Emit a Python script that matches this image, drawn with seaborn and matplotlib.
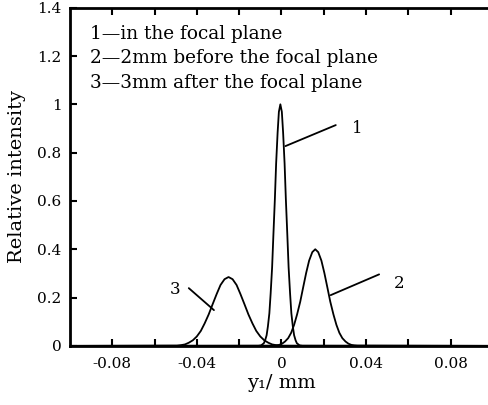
import pandas as pd
import matplotlib
matplotlib.use("Agg")
import matplotlib.pyplot as plt
import seaborn as sns

# curve 1 - in the focal plane
x1 = [-0.1, -0.0109, -0.0096, -0.0083, -0.0077, -0.0070, -0.0064, -0.0057, -0.0051,
      -0.0044, -0.0038, -0.0031, -0.0025, -0.0018, -0.0012, -0.0005, 0.0002, 0.0008,
      0.0015, 0.0021, 0.0028, 0.0034, 0.0041, 0.0047, 0.0054, 0.0060, 0.0067, 0.0073,
      0.0086, 0.0099, 0.1]
y1 = [0.0, 0.0003, 0.002, 0.011, 0.023, 0.044, 0.080, 0.135, 0.216, 0.325, 0.458,
      0.607, 0.755, 0.883, 0.969, 1.0, 0.969, 0.883, 0.755, 0.607, 0.458, 0.325,
      0.216, 0.135, 0.080, 0.044, 0.023, 0.011, 0.002, 0.0003, 0.0]

# curve 2 - 2mm before the focal plane
x2 = [-0.1, -0.0040, -0.0025, -0.0011, 0.0003, 0.0017, 0.0032, 0.0046, 0.0060, 0.0074,
      0.0089, 0.0103, 0.0117, 0.0131, 0.0146, 0.0160, 0.0174, 0.0189, 0.0203, 0.0217,
      0.0231, 0.0246, 0.0260, 0.0274, 0.0288, 0.0303, 0.0317, 0.0331, 0.0345, 0.0360, 0.1]
y2 = [0.0, 0.001, 0.002, 0.004, 0.009, 0.018, 0.032, 0.054, 0.087, 0.130, 0.183,
      0.243, 0.302, 0.353, 0.388, 0.400, 0.388, 0.353, 0.302, 0.243, 0.183, 0.130,
      0.087, 0.054, 0.032, 0.018, 0.009, 0.004, 0.002, 0.001, 0.0]

# curve 3 - 3mm after the focal plane
x3 = [-0.1, -0.0513, -0.0494, -0.0475, -0.0456, -0.0438, -0.0419, -0.0400, -0.0381,
      -0.0363, -0.0344, -0.0325, -0.0306, -0.0288, -0.0269, -0.0250, -0.0231, -0.0212,
      -0.0194, -0.0175, -0.0156, -0.0137, -0.0119, -0.0100, -0.0081, -0.0062, -0.0044,
      -0.0025, -0.0006, 0.0013, 0.1]
y3 = [0.0, 0.001, 0.001, 0.003, 0.006, 0.013, 0.023, 0.039, 0.062, 0.093, 0.130,
      0.173, 0.215, 0.252, 0.276, 0.285, 0.276, 0.252, 0.215, 0.173, 0.130, 0.093,
      0.062, 0.039, 0.023, 0.013, 0.006, 0.003, 0.001, 0.001, 0.0]

legend_lines = ["1\u2014in the focal plane",
                "2\u20142mm before the focal plane",
                "3\u20143mm after the focal plane"]
xticks = [-0.08, -0.06, -0.04, -0.02, 0, 0.02, 0.04, 0.06, 0.08]
xtick_labels = ["-0.08", "", "-0.04", "", "0", "", "0.04", "", "0.08"]
yticks = [0, 0.2, 0.4, 0.6, 0.8, 1.0, 1.2, 1.4]
ytick_labels = ["0", "0.2", "0.4", "0.6", "0.8", "1", "1.2", "1.4"]

sns.set_style("ticks")
plt.rcParams['font.family'] = ['DejaVu Serif']
plt.rcParams['text.color'] = 'black'
plt.rcParams['axes.labelcolor'] = 'black'

fig = plt.figure(figsize=(4.89, 4.05), dpi=100)
ax = fig.add_axes([0.143, 0.146, 0.865, 0.835])

for xs, ys in [(x1, y1), (x2, y2), (x3, y3)]:
    df = pd.DataFrame({"x": xs, "y": ys})
    sns.lineplot(data=df, x="x", y="y", color="black", linewidth=1.3,
                 sort=False, estimator=None, ax=ax)

ax.set_xlim(-0.1, 0.1)
ax.set_ylim(0, 1.4)
ax.set_xticks(xticks)
ax.set_xticklabels(xtick_labels)
ax.set_yticks(yticks)
ax.set_yticklabels(ytick_labels)
ax.tick_params(direction="in", length=5, width=1.5, top=True, right=False,
               labelsize=11, pad=8, colors="black")
ax.tick_params(axis="y", pad=6)
for s in ax.spines.values():
    s.set_linewidth(2)
    s.set_color("black")
ax.spines["right"].set_visible(False)

ax.set_xlabel("y\u2081/ mm", fontsize=14, labelpad=2)
ax.set_ylabel("Relative intensity", fontsize=14, labelpad=8)

# legend text block
for i, t in enumerate(legend_lines):
    ax.text(-0.0905, 1.292 - i * 0.101, t, fontsize=13.3, va="center", ha="left")

# curve labels with leader lines
ax.plot([0.0019, 0.0257], [0.827, 0.914], color="black", linewidth=1.3)
ax.text(0.0357, 0.90, "1", fontsize=12, va="center", ha="center")
ax.plot([0.0233, 0.0462], [0.21, 0.296], color="black", linewidth=1.3)
ax.text(0.0557, 0.26, "2", fontsize=12, va="center", ha="center")
ax.plot([-0.0438, -0.0319], [0.239, 0.148], color="black", linewidth=1.3)
ax.text(-0.0505, 0.235, "3", fontsize=12, va="center", ha="center")

fig.savefig("out.png", dpi=100)
